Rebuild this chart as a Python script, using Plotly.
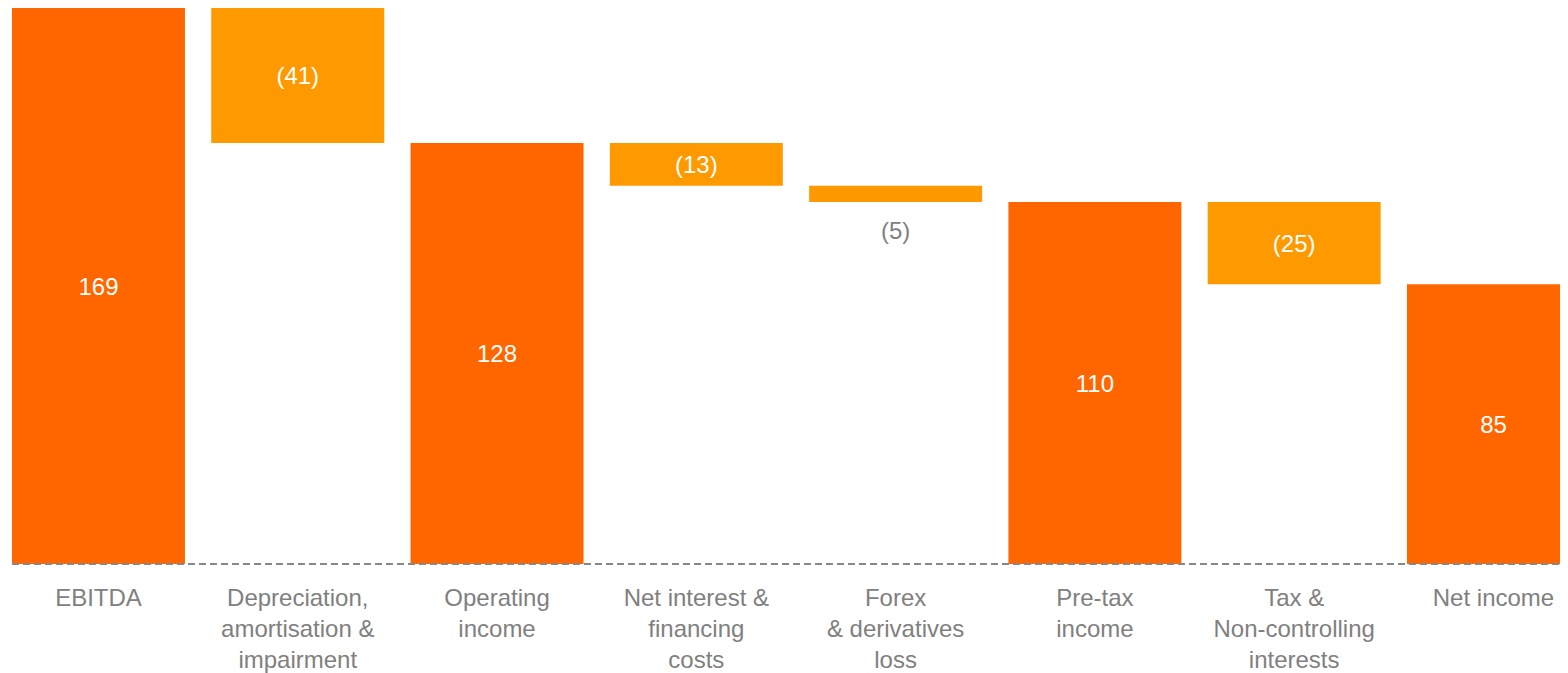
import plotly.graph_objects as go

categories = [
    "EBITDA",
    "Depreciation,<br>amortisation &<br>impairment",
    "Operating<br>income",
    "Net interest &<br>financing<br>costs",
    "Forex<br>& derivatives<br>loss",
    "Pre-tax<br>income",
    "Tax &<br>Non-controlling<br>interests",
    "Net income",
]
values = [169, -41, 128, -13, -5, 110, -25, 85]
measures = ["absolute", "relative", "total", "relative", "relative", "total", "relative", "total"]
labels = ["169", "(41)", "128", "(13)", "(5)", "110", "(25)", "85"]
label_inside = [True, True, True, True, False, True, True, True]

TOTAL_COLOR = "#FF6600"
DELTA_COLOR = "#FF9900"
GRAY = "#808080"
FONT = "Liberation Sans, Arial, sans-serif"
FS = 24
BAR_W = 0.868

# running level after each bar (for placing the outside label)
levels = []
run = 0
for v, m in zip(values, measures):
    if m == "absolute":
        run = v
    elif m == "relative":
        run += v
    levels.append(run)

fig = go.Figure(go.Waterfall(
    x=categories,
    y=values,
    measure=measures,
    text=[t if ins else "" for t, ins in zip(labels, label_inside)],
    textposition=["inside" if ins else "none" for ins in label_inside],
    insidetextanchor="middle",
    insidetextfont=dict(color="white", size=FS, family=FONT),
    textangle=0,
    constraintext="none",
    width=[BAR_W] * len(categories),
    totals=dict(marker=dict(color=TOTAL_COLOR, line=dict(width=0))),
    increasing=dict(marker=dict(color=DELTA_COLOR, line=dict(width=0))),
    decreasing=dict(marker=dict(color=DELTA_COLOR, line=dict(width=0))),
    connector=dict(visible=False),
    cliponaxis=False,
    hoverinfo="skip",
))

for i, ins in enumerate(label_inside):
    if not ins:
        fig.add_annotation(
            x=categories[i], y=levels[i], text=labels[i],
            showarrow=False, yshift=-28, yanchor="middle",
            font=dict(color=GRAY, size=FS, family=FONT),
        )

fig.add_shape(
    type="line", xref="x", yref="y",
    x0=-BAR_W / 2, x1=7.374, y0=0, y1=0,
    line=dict(color="#888888", width=2, dash="7px,4px"),
    layer="above",
)

PX_PER_UNIT = 556 / 169
Y_PAD = 5 / PX_PER_UNIT

fig.update_layout(
    width=1560, height=665,
    margin=dict(l=0, r=0, t=0, b=104, autoexpand=False),
    paper_bgcolor="white", plot_bgcolor="white",
    showlegend=False,
    font=dict(family=FONT, size=FS, color=GRAY),
    xaxis=dict(
        range=[-0.454, 7.374],
        automargin=False,
        showgrid=False, zeroline=False, showline=False,
        ticks="", tickfont=dict(size=FS, color=GRAY, family=FONT),
        ticklabelstandoff=12,
    ),
    yaxis=dict(
        range=[-Y_PAD, 169],
        automargin=False,
        showgrid=False, zeroline=False, showline=False,
        showticklabels=False, ticks="",
    ),
)

fig.write_html("out.html")
